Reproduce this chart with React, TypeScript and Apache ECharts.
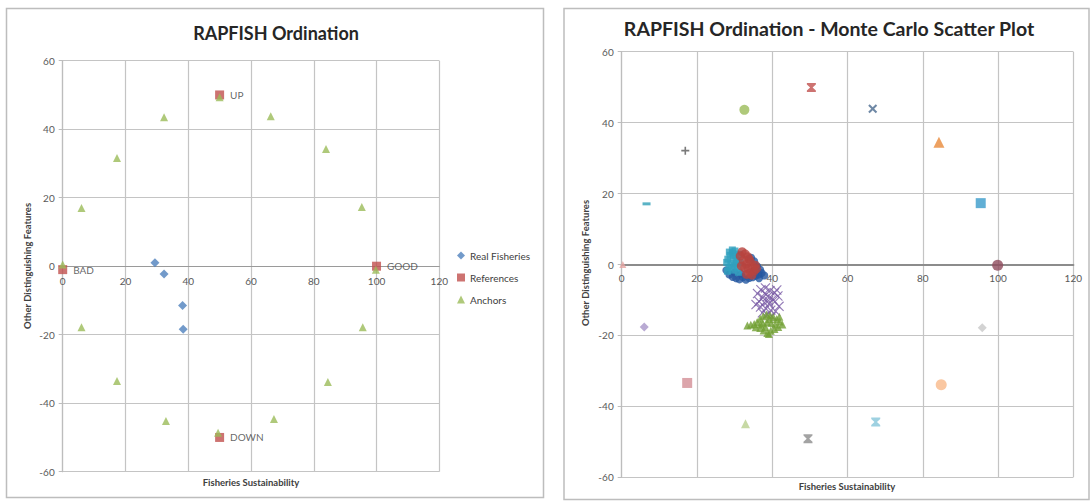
import React, { useEffect, useRef } from "react";
import * as echarts from "echarts";

// ---------- data ----------
const X_MIN = 0, X_MAX = 120, X_STEP = 20;
const Y_MIN = -60, Y_MAX = 60, Y_STEP = 20;

const LEFT_TITLE = "RAPFISH Ordination";
const RIGHT_TITLE = "RAPFISH Ordination - Monte Carlo Scatter Plot";
const X_NAME = "Fisheries Sustainability";
const Y_NAME = "Other Distinguishing Features";
const LEGEND_NAMES = ["Real Fisheries", "References", "Anchors"];

const realFisheries = [[29.4, 1.0], [32.3, -2.3], [38.2, -11.5], [38.4, -18.4]];
const referenceLabels = ["BAD", "GOOD", "UP", "DOWN"];
const referencePoints = [[0, -1], [100, 0], [50, 50], [50, -50]];
const anchorPoints = [
  [0, 0.5], [6, 17], [17.3, 31.6], [32.3, 43.5], [50, 49.3], [66.3, 43.8], [83.9, 34.2],
  [95.3, 17.3], [99.8, -1], [95.6, -17.8], [84.5, -33.8], [67.3, -44.6], [49.5, -48.6],
  [32.9, -45.2], [17.3, -33.5], [6, -17.8],
];

// Monte Carlo plot: single anchor/reference runs
const mcAnchorPoints = [
  [0.3, 0], [6.6, 17.1], [16.9, 32.1], [32.6, 43.6], [50.4, 49.9], [66.7, 43.9], [84.3, 34.5],
  [95.4, 17.3], [99.9, -0.2], [95.8, -17.8], [84.9, -33.9], [67.5, -44.4], [49.5, -49.1],
  [32.9, -44.9], [17.4, -33.4], [6.0, -17.6],
];
// Monte Carlo clouds around the real fisheries
const mcTeal = [
  [28.2, 1.5], [28.8, 2.6], [29.5, 3.2], [30.3, 2.4], [29.0, 0.2], [28.5, -0.8], [29.9, -0.3],
  [30.6, 1.1], [31.2, 2.9], [27.9, 0.6], [29.3, -1.6], [30.8, -0.9], [28.6, 3.5], [31.5, 0.5],
  [29.7, 1.8], [30.1, 3.8], [28.1, -1.9], [31.0, -2.2], [29.4, 4.1], [30.4, 0.2],
];
const mcBlue = [
  [28.6, -2.8], [29.5, -3.5], [30.4, -3.9], [31.3, -4.2], [32.2, -3.6], [33.0, -4.3], [33.9, -3.8],
  [34.8, -3.6], [35.6, -3.2], [36.4, -2.8], [37.2, -2.4], [37.9, -3.1], [36.8, -1.5], [36.0, -0.5],
  [35.2, 0.9], [34.4, 1.9], [27.8, -1.6], [36.5, -3.9], [30.0, -2.2], [31.8, -2.6], [35.0, -2.0],
];
const mcRed = [
  [32.0, 3.6], [32.8, 3.0], [31.5, 2.4], [33.5, 2.2], [34.2, 0.8], [33.1, 0.1], [34.8, -0.6],
  [33.6, -1.2], [35.2, -1.8], [34.0, -2.4], [32.7, -1.0], [35.5, -0.2], [33.9, 1.5], [32.3, 1.2],
  [34.6, -3.0], [31.8, -0.4], [33.2, -2.8], [35.8, -1.2],
];
const mcPurple = [
  [36.1, -8.2], [37.0, -7.1], [38.2, -6.6], [39.4, -7.4], [40.6, -8.0], [41.5, -8.9], [37.5, -9.3],
  [38.8, -9.0], [40.1, -9.8], [36.5, -10.4], [37.9, -10.7], [39.2, -11.1], [40.7, -10.5],
  [41.8, -11.8], [36.9, -12.0], [38.3, -12.4], [39.6, -12.9], [40.9, -13.2], [37.4, -13.6],
  [38.7, -14.2], [39.9, -14.6], [35.7, -11.3], [41.2, -7.2], [38.1, -8.1], [39.0, -10.2],
];
const mcGreen = [
  [33.4, -17.2], [34.3, -17.0], [35.2, -16.8], [36.0, -16.2], [36.8, -15.3], [37.6, -14.6],
  [38.5, -14.1], [39.4, -14.3], [40.3, -14.8], [41.2, -15.4], [42.0, -16.1], [42.7, -16.9],
  [41.6, -17.6], [40.6, -18.2], [39.6, -18.7], [38.7, -19.3], [37.7, -18.6], [36.8, -17.9],
  [37.5, -16.6], [38.6, -16.2], [39.7, -16.5], [40.8, -16.9], [38.2, -17.6], [39.2, -15.4],
  [35.6, -17.7], [36.9, -16.9], [39.1, -19.6], [41.9, -14.7],
];

// ---------- styles ----------
const FONT = "Lato, 'Open Sans', sans-serif";
const P_X = "path://M0,1.6L1.6,0L5,3.4L8.4,0L10,1.6L6.6,5L10,8.4L8.4,10L5,6.6L1.6,10L0,8.4L3.4,5Z";
const P_XTHIN = "path://M0,0.8L0.8,0L5,4.2L9.2,0L10,0.8L5.8,5L10,9.2L9.2,10L5,5.8L0.8,10L0,9.2L4.2,5Z";
const P_PLUS = "path://M4,0H6V4H10V6H6V10H4V6H0V4H4Z";
const P_HOUR = "path://M0,0H10V1.6L6.4,5L10,8.4V10H0V8.4L3.6,5L0,1.6Z";
const P_DASH = "path://M0,0H10V4H0Z";

const MC_ANCHOR_STYLE = [
  { symbol: "triangle", size: 7, color: "#E6A5A3" },
  { symbol: P_DASH, size: [8, 3], color: "#31A0B8" },
  { symbol: P_PLUS, size: 8, color: "#595959" },
  { symbol: "circle", size: 10, color: "#9BBB59" },
  { symbol: P_HOUR, size: 9, color: "#C0504D" },
  { symbol: P_X, size: 9, color: "#4A6A8E" },
  { symbol: "triangle", size: 11, color: "#E8893A" },
  { symbol: "rect", size: 10, color: "#3A9BCB" },
  { symbol: "circle", size: 11, color: "#8E4B5C" },
  { symbol: "diamond", size: 9, color: "#C8C8C8" },
  { symbol: "circle", size: 11, color: "#F9B98A" },
  { symbol: P_HOUR, size: 9, color: "#86C5DA" },
  { symbol: P_HOUR, size: 9, color: "#8C8C8C" },
  { symbol: "triangle", size: 9, color: "#B9CF8E" },
  { symbol: "rect", size: 10, color: "#D38E96" },
  { symbol: "diamond", size: 9, color: "#A795C8" },
];

// grid boxes (pixels)
const G0 = { left: 62.7, top: 60.7, right: 652.7, bottom: 30.3 };
const G1 = { left: 621.7, top: 51.7, right: 18.7, bottom: 24.7 };

function axes(gridIndex: number, g: any, zeroWidth: number, zeroColor: string, labelMargin: number) {
  const h = 502 - g.top - g.bottom;
  const zeroFromBottom = h * (0 - Y_MIN) / (Y_MAX - Y_MIN);
  const x = {
    type: "value", gridIndex, min: X_MIN, max: X_MAX, interval: X_STEP,
    position: "bottom",
    offset: -zeroFromBottom,
    axisLine: { onZero: false, lineStyle: { color: zeroColor, width: zeroWidth } },
    axisTick: { show: false },
    axisLabel: { fontFamily: FONT, fontSize: 10, color: "#595959", margin: labelMargin },
    splitLine: { show: true, lineStyle: { color: "#C4C4C4", width: 1.2 } },
  };
  const y = {
    type: "value", gridIndex, min: Y_MIN, max: Y_MAX, interval: Y_STEP,
    axisLine: { show: true, onZero: false, lineStyle: { color: "#BDBDBD", width: 1.2 } },
    axisTick: { show: true, length: 4, lineStyle: { color: "#BDBDBD" } },
    axisLabel: { fontFamily: FONT, fontSize: 10, color: "#595959", margin: 8 },
    splitLine: { show: true, lineStyle: { color: "#C4C4C4", width: 1.2 } },
  };
  return { x, y };
}

export default function App() {
  const ref = useRef<HTMLDivElement>(null);
  useEffect(() => {
    if (!ref.current) return;
    const chart = echarts.init(ref.current, undefined, { renderer: "svg" });
    const a0 = axes(0, G0, 1.2, "#9A9A9A", 10);
    const a1 = axes(1, G1, 2.2, "#8C8C8C", 8);

    const mcSeries: any[] = mcAnchorPoints.map((p, i) => ({
      type: "scatter", name: "mc" + i, xAxisIndex: 1, yAxisIndex: 1,
      symbol: MC_ANCHOR_STYLE[i].symbol, symbolSize: MC_ANCHOR_STYLE[i].size,
      itemStyle: { color: MC_ANCHOR_STYLE[i].color },
      data: [p],
    }));
    const cloud = (name: string, data: number[][], symbol: string, size: any, color: string) => ({
      type: "scatter", name, xAxisIndex: 1, yAxisIndex: 1, symbol, symbolSize: size,
      itemStyle: { color }, data,
    });
    mcSeries.push(
      cloud("mcBlue", mcBlue, "circle", 8, "#2458A0"),
      cloud("mcTeal", mcTeal, "rect", 7, "#2FA0BE"),
      cloud("mcRed", mcRed, "circle", 9, "#B8443F"),
      cloud("mcPurple", mcPurple, P_XTHIN, 10, "#7A5CA6"),
      cloud("mcGreen", mcGreen, "triangle", 8, "#72A034"),
    );

    const titleStyle = (text: string, size: number) => ({
      text, fontFamily: FONT, fontWeight: "bold", fontSize: size, fill: "#262626",
      textAlign: "center", textVerticalAlign: "middle",
    });
    const nameStyle = (text: string) => ({
      text, fontFamily: FONT, fontWeight: "bold", fontSize: 9.5, fill: "#404040",
      textAlign: "center", textVerticalAlign: "middle",
    });

    const option: any = {
      animation: false,
      backgroundColor: "#ffffff",
      textStyle: { fontFamily: FONT },
      grid: [G0, G1],
      xAxis: [a0.x, a1.x],
      yAxis: [a0.y, a1.y],
      legend: {
        data: LEGEND_NAMES,
        orient: "vertical",
        left: 452,
        top: 244,
        itemWidth: 8,
        itemHeight: 8,
        itemGap: 9,
        textStyle: { fontFamily: FONT, fontSize: 10, color: "#404040", lineHeight: 13 },
      },
      graphic: [
        { type: "rect", shape: { x: 6.5, y: 8.5, width: 537, height: 489 }, style: { fill: "none", stroke: "#BDBDBD", lineWidth: 1.5 }, silent: true },
        { type: "rect", shape: { x: 564, y: 8.5, width: 525, height: 491 }, style: { fill: "none", stroke: "#BDBDBD", lineWidth: 1.5 }, silent: true },
        { type: "text", x: 276, y: 33, style: titleStyle(LEFT_TITLE, 18) },
        { type: "text", x: 829, y: 28.5, style: titleStyle(RIGHT_TITLE, 19.5) },
        { type: "text", x: 251, y: 482, style: nameStyle(X_NAME) },
        { type: "text", x: 847, y: 486, style: nameStyle(X_NAME) },
        { type: "text", x: 27, y: 266, rotation: Math.PI / 2, style: nameStyle(Y_NAME) },
        { type: "text", x: 585, y: 263, rotation: Math.PI / 2, style: nameStyle(Y_NAME) },
      ],
      series: [
        {
          type: "scatter", name: LEGEND_NAMES[0], xAxisIndex: 0, yAxisIndex: 0,
          symbol: "diamond", symbolSize: 9, itemStyle: { color: "#4F81BD" },
          data: realFisheries,
        },
        {
          type: "scatter", name: LEGEND_NAMES[1], xAxisIndex: 0, yAxisIndex: 0,
          symbol: "rect", symbolSize: 9, itemStyle: { color: "#C0504D" },
          label: { show: true, position: "right", distance: 6, formatter: "{b}", fontFamily: FONT, fontSize: 10, color: "#404040" },
          data: referencePoints.map((p, i) => ({ name: referenceLabels[i], value: p })),
        },
        {
          type: "scatter", name: LEGEND_NAMES[2], xAxisIndex: 0, yAxisIndex: 0,
          symbol: "triangle", symbolSize: 8, itemStyle: { color: "#9BBB59" },
          data: anchorPoints,
        },
        ...mcSeries,
      ],
    };
    chart.setOption(option);
    return () => chart.dispose();
  }, []);
  return (
    <div style={{ position: "absolute", left: 0, top: 0, width: 1092, height: 502, background: "#fff" }}>
      <div ref={ref} style={{ width: 1092, height: 502 }} />
    </div>
  );
}
